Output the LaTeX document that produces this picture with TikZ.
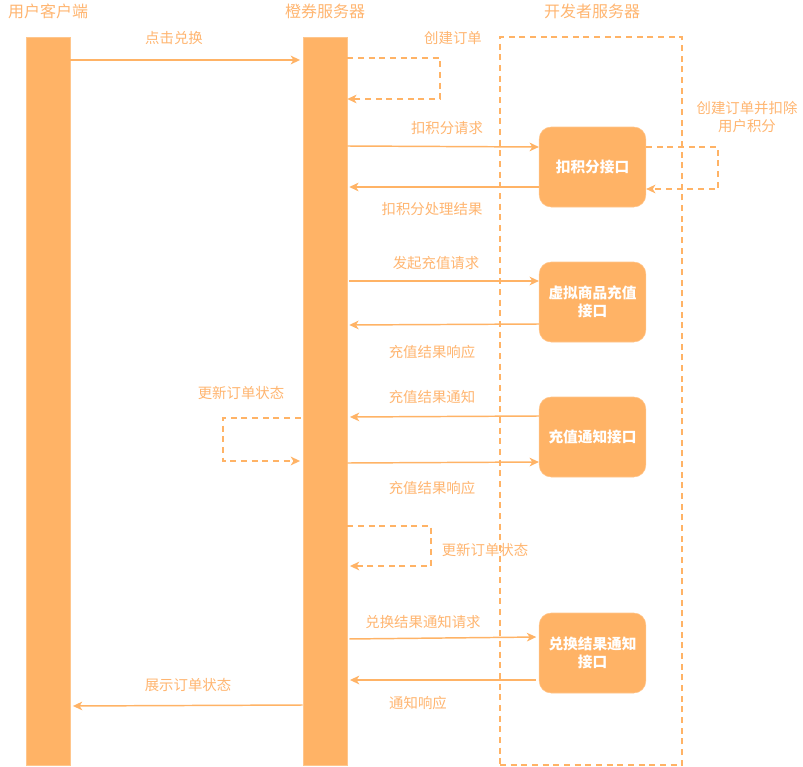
\documentclass[tikz,border=0pt]{standalone}
\usepackage{fontspec}
\setmainfont{Noto Sans CJK SC}
\usepackage{xcolor}
\usetikzlibrary{arrows.meta,positioning,calc}
\definecolor{lanefill}{HTML}{FFB366}
\definecolor{labtext}{HTML}{FFB570}

\begin{document}
\begin{tikzpicture}[x=0.75pt,y=-0.75pt,
  lane/.style={draw=lanefill!75!white,fill=lanefill,minimum width=33pt,minimum height=546pt,inner sep=0pt},
  api/.style={draw=lanefill!75!white,fill=lanefill,rounded corners=9pt,minimum width=80pt,minimum height=60pt,
    inner sep=2pt,align=center,text=white,font=\bfseries\fontsize{11}{14}\selectfont},
  zone/.style={draw=lanefill,dashed,dash pattern=on 4.5pt off 3.5pt,line width=1pt,minimum width=136.5pt,minimum height=546pt},
  msg/.style={draw=lanefill,line width=1.1pt,-{Stealth[length=7pt,width=6.5pt,inset=2pt]}},
  back/.style={msg,dash pattern=on 4.5pt off 3.5pt},
  lab/.style={text=labtext,font=\fontsize{10.8}{13.5}\selectfont,align=center},
  head/.style={text=labtext,font=\fontsize{12}{14}\selectfont}
]
\useasboundingbox (0,0) rectangle (803,767);
% lanes
\node[head] (tclient) at (48,11) {用户客户端};
\node[head] (tserver) at (325,11) {橙券服务器};
\node[head] (tdev) at (592,11) {开发者服务器};
\node[lane] (client) at (48,401) {};
\node[lane] (server) at (325,401) {};
\node[zone] (devzone) at (591,401) {};
% interfaces
\node[api] (deduct) at (592.5,167) {扣积分接口};
\node[api] (recharge) at (592.5,302) {虚拟商品充值\\接口};
\node[api] (notify) at (592.5,437) {充值通知接口};
\node[api] (result) at (592.5,653) {兑换结果通知\\接口};

% messages
\draw[msg,shorten >=2pt] (client.east |- 0,60) -- (server.west |- 0,60);
\node[lab] at (174,38) {点击兑换};
\draw[back] (server.east |- 0,58) -- (440,58) -- (440,99) -- (server.east |- 0,99);
\node[lab] at (453,38) {创建订单};
\draw[msg] (server.east |- 0,146) -- (deduct.west |- 0,147);
\node[lab] at (447,128) {扣积分请求};
\draw[msg,shorten >=1.5pt] (deduct.west |- 0,187) -- (server.east |- 0,187);
\node[lab] at (432,209) {扣积分处理结果};
\draw[back] (deduct.east |- 0,147) -- (718,147) -- (718,189) -- (deduct.east |- 0,189);
\node[lab] at (747,117) {创建订单并扣除\\用户积分};
\draw[msg,shorten <=1.5pt] (server.east |- 0,281) -- (recharge.west |- 0,281);
\node[lab] at (436,263) {发起充值请求};
\draw[msg,shorten >=1.5pt] (recharge.west |- 0,324) -- (server.east |- 0,325);
\node[lab] at (432,352) {充值结果响应};
\draw[msg,shorten >=2pt] (notify.west |- 0,416) -- (server.east |- 0,417);
\node[lab] at (432,397) {充值结果通知};
\draw[msg] (server.east |- 0,463) -- (notify.west |- 0,462);
\node[lab] at (432,488) {充值结果响应};
\draw[back,shorten <=1.5pt,shorten >=2pt] (server.west |- 0,418) -- (223,418) -- (223,461) -- (server.west |- 0,461);
\node[lab] at (241,393) {更新订单状态};
\draw[back,shorten >=2pt] (server.east |- 0,526) -- (431,526) -- (431,566) -- (server.east |- 0,566);
\node[lab] at (485,550) {更新订单状态};
\draw[msg,shorten <=1.5pt,shorten >=2pt] (server.east |- 0,639) -- (result.west |- 0,637);
\node[lab] at (423,622) {兑换结果通知请求};
\draw[msg,shorten <=2pt,shorten >=2pt] (result.west |- 0,680) -- (server.east |- 0,680);
\node[lab] at (418,703) {通知响应};
\draw[msg,shorten >=2pt] (server.west |- 0,705) -- (client.east |- 0,706);
\node[lab] at (188,685) {展示订单状态};
\end{tikzpicture}
\end{document}
